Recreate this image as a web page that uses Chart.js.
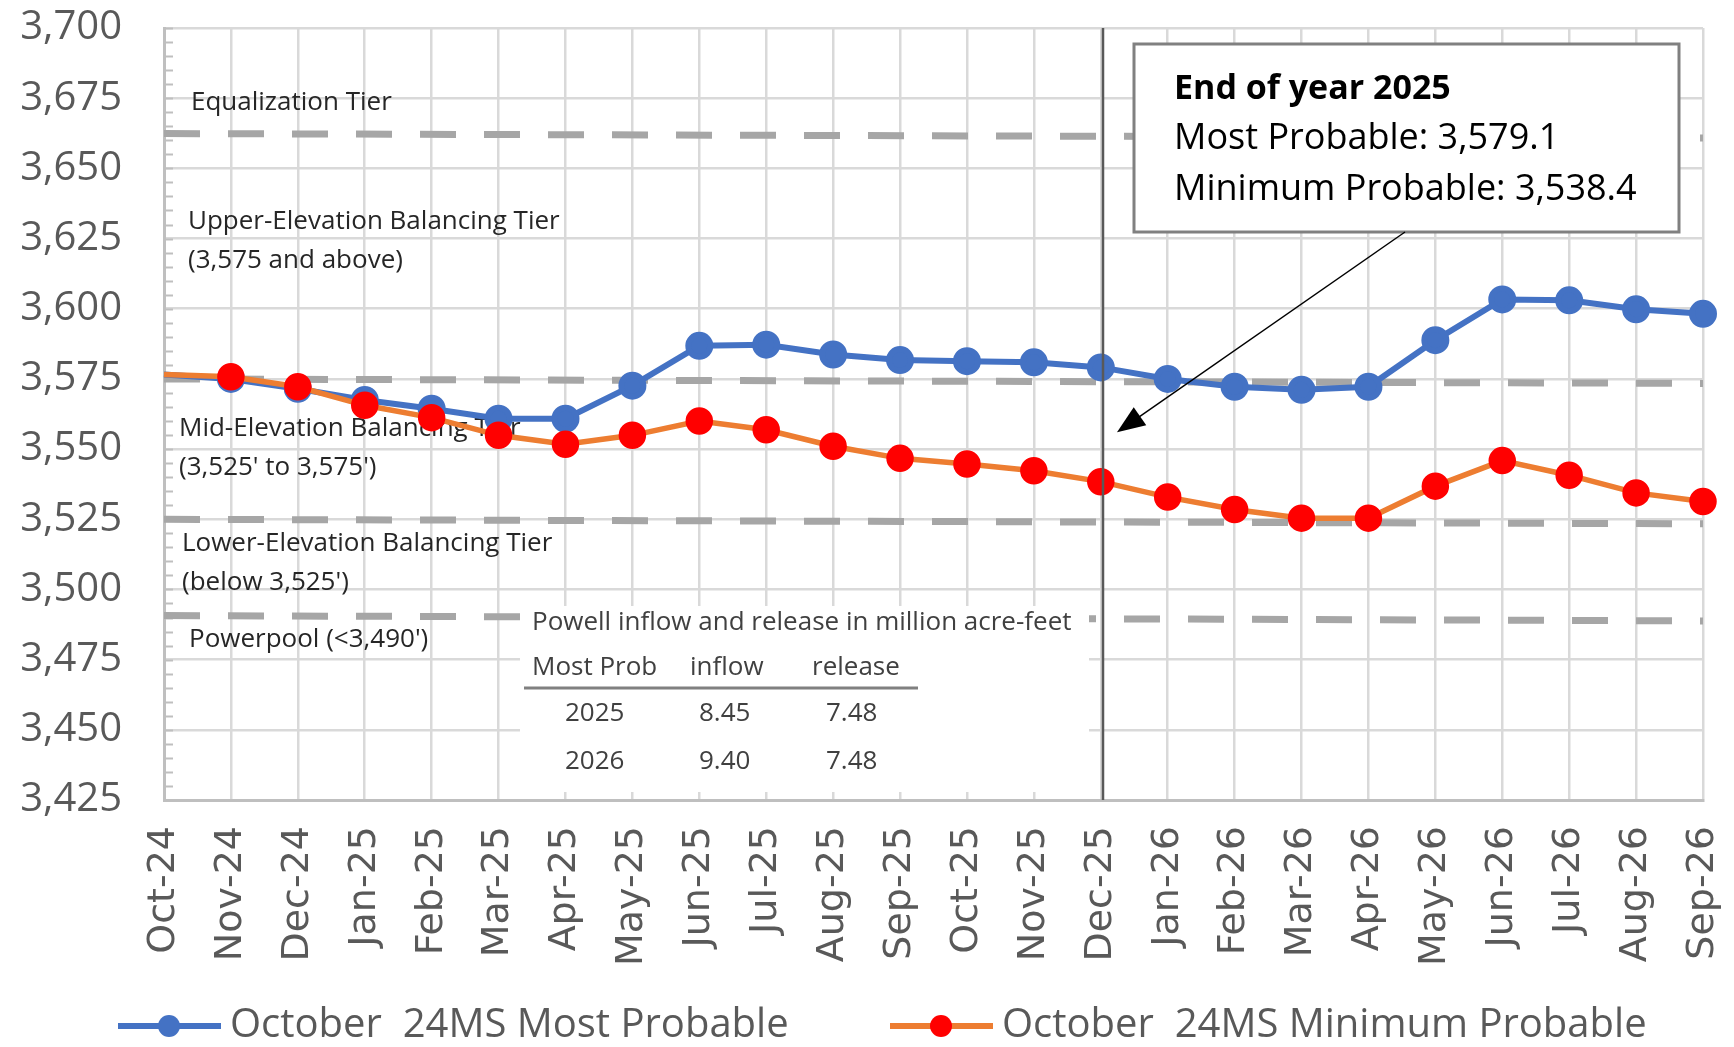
<!DOCTYPE html>
<html>
<head>
<meta charset="utf-8">
<script src="https://cdn.jsdelivr.net/npm/chart.js@4.4.1/dist/chart.umd.min.js"></script>
<style>
  body { margin: 0; background: #fff; }
  #wrap { width: 1734px; height: 1047px; }
</style>
</head>
<body>
<div id="wrap"><canvas id="elevChart" width="1734" height="1047"></canvas></div>
<script>
const months = ['Oct-24', 'Nov-24', 'Dec-24', 'Jan-25', 'Feb-25', 'Mar-25', 'Apr-25', 'May-25', 'Jun-25', 'Jul-25', 'Aug-25', 'Sep-25',
                'Oct-25', 'Nov-25', 'Dec-25', 'Jan-26', 'Feb-26', 'Mar-26', 'Apr-26', 'May-26', 'Jun-26', 'Jul-26', 'Aug-26', 'Sep-26'];

const mostProbable = [3576.6, 3575.0, 3571.5, 3567.5, 3564.4, 3560.8, 3560.8, 3572.6, 3586.8, 3587.2, 3583.7, 3581.7,
                      3581.3, 3580.9, 3579.1, 3575.0, 3572.2, 3571.1, 3572.2, 3588.8, 3603.3, 3603.0, 3599.8, 3598.2];
const minProbable = [3576.6, 3575.8, 3572.2, 3565.6, 3561.2, 3554.9, 3551.7, 3554.9, 3560.0, 3556.9, 3551.0, 3546.7,
                     3544.7, 3542.3, 3538.4, 3532.9, 3528.5, 3525.4, 3525.4, 3536.8, 3545.9, 3540.7, 3534.4, 3531.3];

const yMin = 3425, yMax = 3700, yStep = 25;

// tier boundaries: [value at Oct-24, value at Sep-26]
const equalizationTier = [3662.4, 3660.8];
const upperTier = [3575.0, 3573.4];
const lowerTier = [3525.0, 3523.4];
const powerpoolTier = [3490.7, 3488.8];

const flowYears = ['2025', '2026'];
const flowInflow = ['8.45', '9.40'];
const flowRelease = ['7.48', '7.48'];

const endOfYearMonth = 'Dec-25';
const endOfYearLines = ['End of year 2025', 'Most Probable: 3,579.1', 'Minimum Probable: 3,538.4'];

const seriesNames = ['October  24MS Most Probable', 'October  24MS Minimum Probable'];

function tierData(ends) {
  return months.map((m, i) => i === 0 ? ends[0] : (i === months.length - 1 ? ends[1] : null));
}

function tierDataset(ends) {
  return {
    data: tierData(ends),
    borderColor: '#a6a6a6',
    borderWidth: 7,
    borderDash: [36, 28],
    pointRadius: 0,
    spanGaps: true,
    order: 5
  };
}

const tierCaptions = [
  ['Equalization Tier', 191, 103],
  ['Upper-Elevation Balancing Tier', 188, 222],
  ['(3,575 and above)', 188, 261],
  ['Mid-Elevation Balancing Tier', 179, 429],
  ["(3,525' to 3,575')", 179, 468],
  ['Lower-Elevation Balancing Tier', 182, 544],
  ["(below 3,525')", 182, 583],
  ["Powerpool (<3,490')", 189, 640]
];

const overlays = {
  id: 'overlays',
  beforeDatasetsDraw(chart) {
    const { ctx, chartArea: a, scales: { y } } = chart;
    ctx.save();
    // small ticks along the value axis
    ctx.strokeStyle = '#bfbfbf';
    ctx.lineWidth = 2;
    for (let v = yMin; v <= yMax; v += 5) {
      const py = Math.round(y.getPixelForValue(v)) + 0.5;
      ctx.beginPath();
      ctx.moveTo(a.left, py);
      ctx.lineTo(a.left + 9, py);
      ctx.stroke();
    }
    ctx.fillStyle = '#262626';
    ctx.font = '26px "Open Sans"';
    ctx.textBaseline = 'middle';
    tierCaptions.forEach(c => ctx.fillText(c[0], c[1], c[2]));
    ctx.restore();
  },
  afterDatasetsDraw(chart) {
    const { ctx, chartArea: a, scales: { x, y } } = chart;
    ctx.save();

    // inflow / release table
    ctx.fillStyle = '#ffffff';
    ctx.fillRect(520, 606, 569, 186);
    ctx.fillStyle = '#404040';
    ctx.font = '26px "Open Sans"';
    ctx.textBaseline = 'middle';
    ctx.fillText('Powell inflow and release in million acre-feet', 532, 623);
    ctx.fillText('Most Prob', 532, 668);
    ctx.fillText('inflow', 690, 668);
    ctx.fillText('release', 812, 668);
    ctx.strokeStyle = '#808080';
    ctx.lineWidth = 3;
    ctx.beginPath();
    ctx.moveTo(524, 688);
    ctx.lineTo(918, 688);
    ctx.stroke();
    flowYears.forEach((yr, i) => {
      const ty = 714 + i * 48;
      ctx.fillText(yr, 565, ty);
      ctx.fillText(flowInflow[i], 699, ty);
      ctx.fillText(flowRelease[i], 826, ty);
    });

    // end of year marker line
    const ex = Math.round(x.getPixelForValue(months.indexOf(endOfYearMonth))) + 2;
    ctx.strokeStyle = '#595959';
    ctx.lineWidth = 2.5;
    ctx.beginPath();
    ctx.moveTo(ex, a.top);
    ctx.lineTo(ex, a.bottom);
    ctx.stroke();

    // callout box
    ctx.fillStyle = '#ffffff';
    ctx.fillRect(1134, 44, 545, 188);
    ctx.strokeStyle = '#808080';
    ctx.lineWidth = 3;
    ctx.strokeRect(1134, 44, 545, 188);
    ctx.fillStyle = '#000000';
    ctx.font = 'bold 34px "Open Sans"';
    ctx.fillText(endOfYearLines[0], 1174, 89);
    ctx.font = '36px "Open Sans"';
    ctx.fillText(endOfYearLines[1], 1174, 139);
    ctx.fillText(endOfYearLines[2], 1174, 190);

    // arrow from the callout to the end-of-year line
    const x0 = 1405, y0 = 232;
    const x1 = ex + 14, y1 = y.getPixelForValue(3556);
    const ang = Math.atan2(y1 - y0, x1 - x0);
    ctx.strokeStyle = '#000000';
    ctx.lineWidth = 1.5;
    ctx.beginPath();
    ctx.moveTo(x0, y0);
    ctx.lineTo(x1 - 20 * Math.cos(ang), y1 - 20 * Math.sin(ang));
    ctx.stroke();
    ctx.beginPath();
    ctx.moveTo(x1, y1);
    ctx.lineTo(x1 - 28 * Math.cos(ang) + 11 * Math.sin(ang), y1 - 28 * Math.sin(ang) - 11 * Math.cos(ang));
    ctx.lineTo(x1 - 28 * Math.cos(ang) - 11 * Math.sin(ang), y1 - 28 * Math.sin(ang) + 11 * Math.cos(ang));
    ctx.closePath();
    ctx.fill();
    ctx.restore();
  },
  afterDraw(chart) {
    const { ctx } = chart;
    const starts = [118, 890];
    ctx.save();
    chart.data.datasets.slice(0, 2).forEach((ds, i) => {
      const lx = starts[i], ly = 1026;
      ctx.strokeStyle = ds.borderColor;
      ctx.lineWidth = 6;
      ctx.beginPath();
      ctx.moveTo(lx, ly);
      ctx.lineTo(lx + 103, ly);
      ctx.stroke();
      ctx.fillStyle = ds.pointBackgroundColor;
      ctx.beginPath();
      ctx.arc(lx + 51, ly, 11, 0, Math.PI * 2);
      ctx.fill();
      ctx.fillStyle = '#595959';
      ctx.font = '40px "Open Sans"';
      ctx.textBaseline = 'middle';
      ctx.fillText(ds.label, lx + 112, ly);
    });
    ctx.restore();
  }
};

new Chart(document.getElementById('elevChart'), {
  type: 'line',
  data: {
    labels: months,
    datasets: [
      {
        label: seriesNames[0],
        data: mostProbable,
        borderColor: '#4472c4',
        backgroundColor: '#4472c4',
        pointBackgroundColor: '#4472c4',
        pointBorderColor: '#4472c4',
        borderWidth: 6,
        pointRadius: ctx => ctx.dataIndex === 0 ? 0 : 11,
        order: 1
      },
      {
        label: seriesNames[1],
        data: minProbable,
        borderColor: '#ed7d31',
        backgroundColor: '#ff0000',
        pointBackgroundColor: '#ff0000',
        pointBorderColor: '#ff0000',
        borderWidth: 5.5,
        pointRadius: ctx => ctx.dataIndex === 0 ? 0 : 11,
        order: 0
      },
      tierDataset(equalizationTier),
      tierDataset(upperTier),
      tierDataset(lowerTier),
      tierDataset(powerpoolTier)
    ]
  },
  options: {
    responsive: false,
    animation: false,
    layout: { padding: { top: 28, right: 31, left: 0, bottom: 0 } },
    plugins: {
      legend: { display: false },
      tooltip: { enabled: false }
    },
    scales: {
      x: {
        offset: false,
        grid: { color: '#d9d9d9', lineWidth: 2.5, drawTicks: false },
        border: { color: '#bfbfbf', width: 3 },
        ticks: {
          color: '#595959',
          font: { family: 'DejaVu Sans', size: 38 },
          maxRotation: 90,
          minRotation: 90,
          autoSkip: false,
          padding: 26
        },
        afterFit: s => {
          s.height = 247;
          s.paddingLeft = 0;
          s.paddingRight = 0;
        }
      },
      y: {
        min: yMin,
        max: yMax,
        grid: { color: '#d9d9d9', lineWidth: 2.5, drawTicks: false },
        border: { color: '#bfbfbf', width: 3 },
        ticks: {
          stepSize: yStep,
          color: '#595959',
          font: { family: 'Open Sans', size: 40 },
          padding: 42,
          callback: v => v.toLocaleString('en-US')
        },
        afterFit: s => {
          s.width = 164;
          s.paddingTop = 0;
          s.paddingBottom = 0;
        }
      }
    }
  },
  plugins: [overlays]
});
</script>
</body>
</html>
